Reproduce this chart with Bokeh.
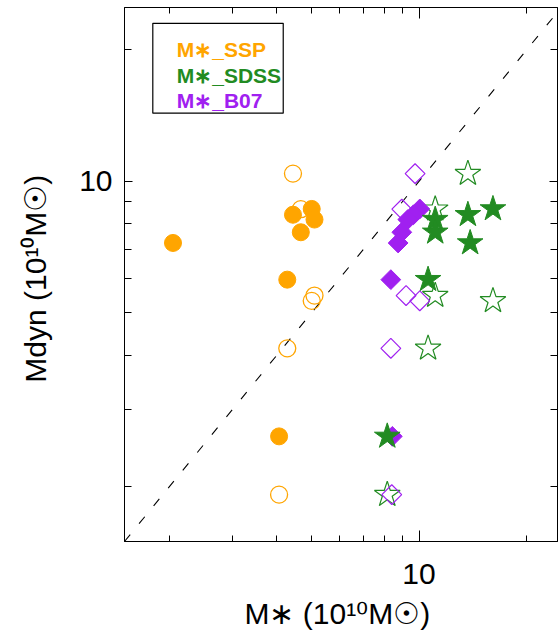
import math
from bokeh.plotting import figure
from bokeh.models import (LogAxis, FixedTicker, BoxAnnotation, Label, Range1d)
from bokeh.embed import file_html
from bokeh.resources import INLINE

# ---- data (units of 1e10 Msun), one entry per galaxy ----
mstar_ssp = [5.01, 4.44, 5.10, 4.67, 2.05, 4.28, 4.06]
mstar_sdss = [16.1, 13.7, 11.1, 11.1, 13.9, 10.6, 8.15]
mstar_b07 = [10.05, 9.65, 9.3, 8.95, 8.74, 8.34, 8.42]
mdyn_filled = [8.65, 8.39, 8.18, 7.65, 7.23, 5.96, 2.61]
mdyn_open = [5.33, 10.42, 5.48, 8.64, None, 4.15, 1.92]
mstar_b07_open = [10.05, 9.75, 9.2, 8.95, None, 8.34, 8.39]

legend_labels = ["M∗_SSP", "M∗_SDSS", "M∗_B07"]
x_major = [10]
x_minor = [2, 3, 4, 5, 6, 7, 8, 9, 20]
y_major = [10]
y_minor = [2, 3, 4, 5, 6, 7, 8, 9, 20]
one_to_one = [1.5, 24.4]

ORANGE = "#FFA500"
GREEN = "#228B22"
PURPLE = "#A020F0"
FONT = "Liberation Sans"

p = figure(width=559, height=639, x_axis_type="log", y_axis_type="log",
           x_range=Range1d(1.5, 24.4), y_range=Range1d(1.5, 25.0),
           output_backend="svg", toolbar_location=None,
           min_border_left=124, min_border_right=2, min_border_top=7,
           min_border_bottom=98)
p.background_fill_color = "white"
p.border_fill_color = "white"
p.outline_line_color = "black"
p.outline_line_alpha = 1.0
p.xgrid.visible = False
p.ygrid.visible = False

xt = FixedTicker(ticks=x_major, minor_ticks=x_minor)
yt = FixedTicker(ticks=y_major, minor_ticks=y_minor)

def style(ax, ticker, major_len, minor_len, labels=True):
    ax.ticker = ticker
    ax.major_tick_in = major_len
    ax.major_tick_out = 0
    ax.minor_tick_in = minor_len
    ax.minor_tick_out = 0
    ax.axis_line_color = "black"
    ax.major_tick_line_color = "black"
    ax.minor_tick_line_color = "black"
    ax.major_label_text_font = FONT
    ax.major_label_text_font_size = "30px"
    ax.major_label_text_color = "black"
    ax.axis_label_text_font = FONT
    ax.axis_label_text_font_size = "30px"
    ax.axis_label_text_font_style = "normal"
    ax.axis_label_text_color = "black"
    if not labels:
        ax.major_label_overrides = {t: "" for t in ticker.ticks}
        ax.major_label_standoff = 0
        ax.axis_label = None

xa = p.xaxis[0]
style(xa, xt, 11, 6)
xa.major_label_overrides = {10: "10"}
xa.major_label_standoff = 22
xa.axis_label = "M∗  (10¹⁰M☉)"
xa.axis_label_standoff = 10

ya = p.yaxis[0]
style(ya, yt, 8, 7)
ya.major_label_overrides = {10: "10"}
ya.major_label_standoff = 12
ya.axis_label = "Mdyn  (10¹⁰M☉)"
ya.axis_label_standoff = 24

top = LogAxis()
style(top, xt, 11, 6, labels=False)
p.add_layout(top, "above")
right = LogAxis()
style(right, yt, 8, 7, labels=False)
p.add_layout(right, "right")

# one-to-one line
p.line(one_to_one, one_to_one, line_color="black", line_width=1.1, line_dash="9 14")

def pairs(xs, ys):
    out_x, out_y = [], []
    for a, b in zip(xs, ys):
        if a is not None and b is not None:
            out_x.append(a)
            out_y.append(b)
    return out_x, out_y

# open markers
ox, oy = pairs(mstar_ssp, mdyn_open)
p.scatter(ox, oy, marker="circle", size=17, fill_color=None, line_color=ORANGE, line_width=1.3)
ox, oy = pairs(mstar_sdss, mdyn_open)
p.scatter(ox, oy, marker="star", size=27, fill_color=None, line_color=GREEN, line_width=1.2)
ox, oy = pairs(mstar_b07_open, mdyn_open)
p.scatter(ox, oy, marker="square", angle=math.pi / 4, size=14, fill_color=None,
          line_color=PURPLE, line_width=1.2)

# filled markers
p.scatter(mstar_ssp, mdyn_filled, marker="circle", size=17, fill_color=ORANGE,
          line_color=ORANGE, line_width=1)
p.scatter(mstar_b07, mdyn_filled, marker="square", angle=math.pi / 4, size=14,
          fill_color=PURPLE, line_color=PURPLE, line_width=1)
p.scatter(mstar_sdss, mdyn_filled, marker="star", size=27, fill_color=GREEN,
          line_color=GREEN, line_width=1)

# legend box and coloured texts
p.add_layout(BoxAnnotation(left=1.80, right=4.17, bottom=14.33, top=23.0,
                           fill_color=None, fill_alpha=0, line_color="black",
                           line_alpha=1.0, line_width=1.2))
for txt, col, yy in zip(legend_labels, [ORANGE, GREEN, PURPLE], [20.07, 17.44, 15.29]):
    p.add_layout(Label(x=2.10, y=yy, text=txt, text_color=col, text_font=FONT,
                       text_font_style="bold", text_font_size="21px",
                       text_baseline="alphabetic"))

open("out.html", "w").write(file_html(p, INLINE))
